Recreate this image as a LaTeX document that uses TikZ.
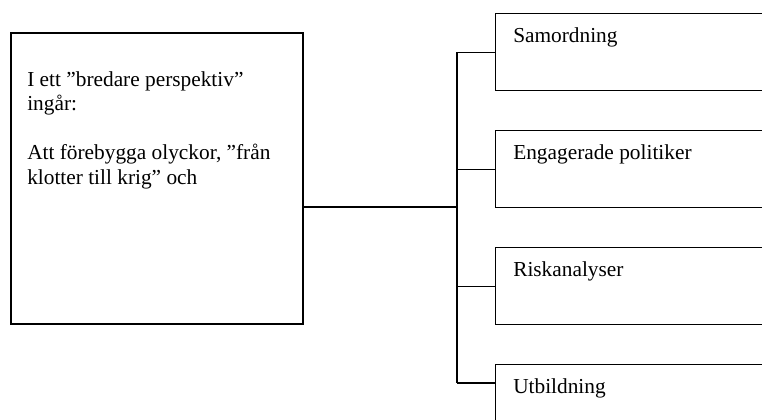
\documentclass[tikz,border=0pt]{standalone}
\usepackage{fontspec}
\setmainfont{Liberation Serif}
\usetikzlibrary{positioning}

\begin{document}
\begin{tikzpicture}[
		x=0.75pt, y=-0.75pt,
		bigbox/.style = {rectangle, draw, line width=1.25pt, inner sep=0pt, anchor=north west, minimum width=219pt, minimum height=218.25pt},
		itembox/.style = {rectangle, draw, line width=1pt, inner sep=0pt, anchor=north west, minimum width=228.75pt, minimum height=57.75pt},
		lbl/.style = {inner sep=0pt, font=\fontsize{16}{18.4}\selectfont},
		conn/.style = {line width=0.8pt},
	]

	\useasboundingbox (0,0) rectangle (762,419);
	\clip (0,0) rectangle (762,419);

	\node[bigbox](intro) at (10,32){};
	\node[itembox](sam) at (495,13){};
	\node[itembox, below=29pt of sam](eng){};
	\node[itembox, below=29pt of eng](risk){};
	\node[itembox, below=29pt of risk](utb){};

	\node[lbl, anchor=north west, align=left](introtxt) at ([shift={(17,39)}]intro.north west)
		{I ett ”bredare perspektiv”\\ingår:\\[18.4pt]Att förebygga olyckor, ”från\\klotter till krig” och};
	\node[lbl, anchor=base west](samtxt) at ([shift={(18,29)}]sam.north west){Samordning};
	\node[lbl, anchor=base west](engtxt) at ([shift={(18,29)}]eng.north west){Engagerade politiker};
	\node[lbl, anchor=base west](risktxt) at ([shift={(18,29)}]risk.north west){Riskanalyser};
	\node[lbl, anchor=base west](utbtxt) at ([shift={(18,29)}]utb.north west){Utbildning};

	\coordinate(hub) at (457,207);
	\coordinate(utbin) at ([shift={(0,19)}]utb.north west);
	\draw[conn](intro.east |- hub)--(hub);
	\draw[conn](hub |- sam.west)--(hub |- utbin);
	\foreach \b in {sam, eng, risk}
		\draw[conn](hub |- \b.west)--(\b.west);
	\draw[conn](hub |- utbin)--(utbin);
\end{tikzpicture}
\end{document}
